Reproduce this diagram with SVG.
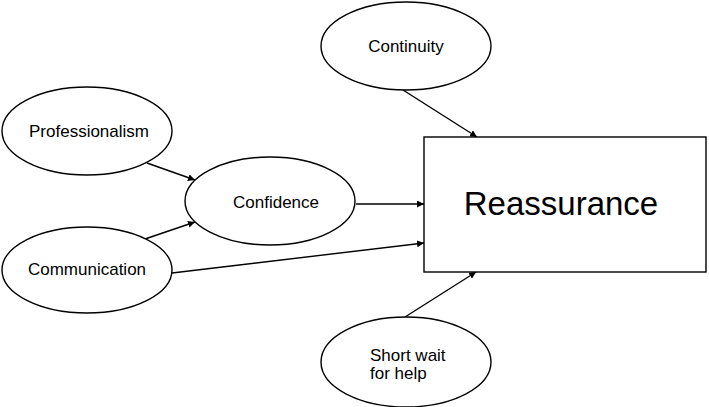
<svg xmlns="http://www.w3.org/2000/svg" width="709" height="407" viewBox="0 0 709 407">
<style>
.n{fill:#fff;stroke:#000;stroke-width:1.4}
.t{font-family:"Liberation Sans",Arial,sans-serif;font-size:17px;fill:#000}
.c{stroke:#000;stroke-width:1.4;fill:none;marker-end:url(#ah)}
</style>
<defs>
<marker id="ah" viewBox="0 0 10 10" refX="10" refY="5" markerWidth="7" markerHeight="7" markerUnits="userSpaceOnUse" orient="auto">
<path d="M0,0 L10,5 L0,10 z" fill="#000"/>
</marker>
</defs>
<rect width="709" height="407" fill="#fff"/>
<g id="connectors">
<line class="c" x1="403" y1="90" x2="477" y2="137"/>
<line class="c" x1="147" y1="163" x2="195" y2="180"/>
<line class="c" x1="145" y1="239" x2="195" y2="222"/>
<line class="c" x1="356" y1="204" x2="424" y2="204"/>
<line class="c" x1="172" y1="273" x2="424" y2="243"/>
<line class="c" x1="405" y1="317" x2="476" y2="272"/>
</g>
<g id="continuity">
<ellipse class="n" cx="406" cy="46" rx="85" ry="44"/>
<text class="t" x="406" y="52" text-anchor="middle">Continuity</text>
</g>
<g id="professionalism">
<ellipse class="n" cx="87" cy="131" rx="85" ry="44"/>
<text class="t" x="89" y="137" text-anchor="middle">Professionalism</text>
</g>
<g id="confidence">
<ellipse class="n" cx="270" cy="201" rx="85" ry="44"/>
<text class="t" x="276" y="208" text-anchor="middle">Confidence</text>
</g>
<g id="communication">
<ellipse class="n" cx="87" cy="270" rx="85" ry="43"/>
<text class="t" x="87" y="275" text-anchor="middle">Communication</text>
</g>
<g id="shortwait">
<ellipse class="n" cx="406" cy="362" rx="85" ry="45"/>
<text class="t" x="370" y="361">Short wait</text>
<text class="t" x="370" y="379">for help</text>
</g>
<g id="reassurance">
<rect class="n" x="424" y="137" width="282" height="135"/>
<text class="t" x="561" y="215" text-anchor="middle" style="font-size:33px">Reassurance</text>
</g>
</svg>
